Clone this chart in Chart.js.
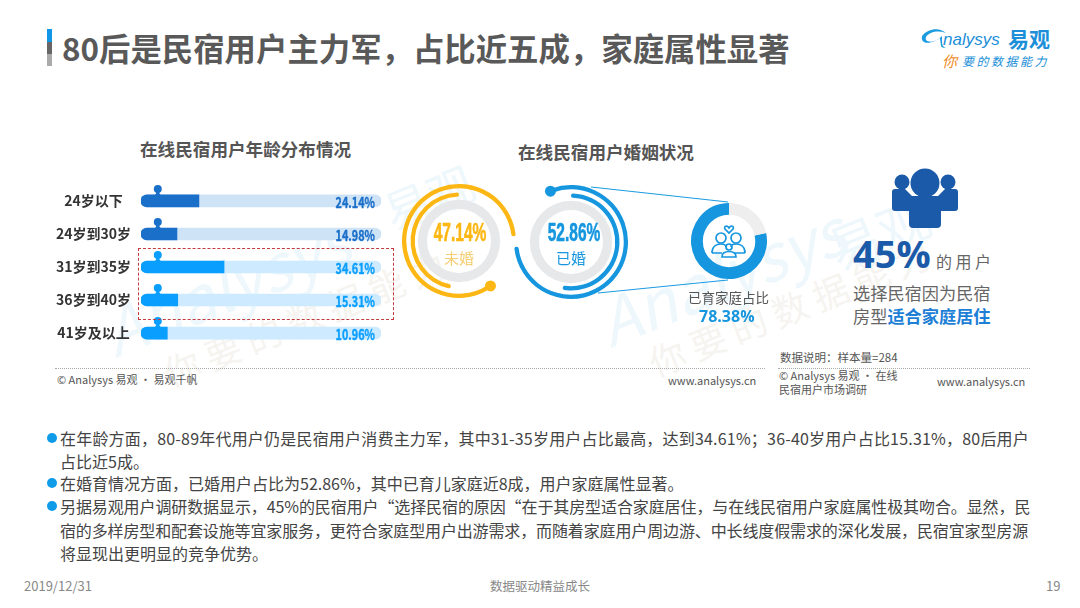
<!DOCTYPE html>
<html>
<head>
<meta charset="utf-8">
<script src="https://cdn.jsdelivr.net/npm/chart.js@4/dist/chart.umd.min.js"></script>
<style>
    html, body { margin: 0; padding: 0; background: #fff; }
    #pagina { position: relative; width: 1080px; height: 608px; overflow: hidden; font-family: "Noto Sans CJK SC", "Noto Sans", sans-serif; color: #444; }
    #pagina div, #pagina canvas, #pagina svg { position: absolute; }
    #pagina div { white-space: nowrap; line-height: 1; }
    .marca { color: #eef7fc; transform-origin: left center; }
    .marca2 { color: #f6f4f0; transform-origin: left center; }
    .cuerpo { left: 60px; font-size: 16px; color: #444; }
    .punto { left: 47px; width: 10px; height: 10px; border-radius: 50%; background: #0f9be8; }
    .subtitulo { font-size: 17.6px; font-weight: bold; color: #555; }
    .nota { font-size: 11px; color: #555; }
    .raya { height: 0; border-top: 1px dotted #aaa; }
    .anillo { font-family: "Liberation Sans", sans-serif; font-weight: bold; font-size: 25px; -webkit-text-stroke: .6px currentColor; transform: scaleX(.62); transform-origin: center; text-align: center; width: 90px; }
</style>
</head>
<body>
<div id="pagina">
    <!-- marcas de agua -->
    <div class="marca" style="left:105px;top:300px;font-size:64px;font-style:italic;transform:rotate(-22deg)">Analysys</div>
    <div class="marca" style="left:600px;top:290px;font-size:64px;font-style:italic;transform:rotate(-22deg)">Analysys</div>
    <div class="marca" style="left:385px;top:190px;font-size:46px;transform:rotate(-22deg)">易观</div>
    <div class="marca" style="left:830px;top:225px;font-size:52px;transform:rotate(-22deg)">易观</div>
    <div class="marca2" style="left:165px;top:355px;font-size:36px;letter-spacing:8px;transform:rotate(-22deg)">你要的数据能力</div>
    <div class="marca2" style="left:650px;top:345px;font-size:36px;letter-spacing:8px;transform:rotate(-22deg)">你要的数据能力</div>

    <!-- cabecera -->
    <svg style="left:47px;top:29px" width="6" height="37">
        <rect width="5" height="13" fill="#1296e8"></rect>
        <rect y="13" width="5" height="12" fill="#666"></rect>
        <rect y="25" width="5" height="12" fill="#aaa"></rect>
    </svg>
    <div style="left:62px;top:32px;font-size:31.4px;font-weight:bold;color:#595959">80后是民宿用户主力军，占比近五成，家庭属性显著</div>

    <!-- logo -->
    <svg style="left:920px;top:24px" width="30" height="28">
        <path d="M2 12 C8 4 20 3 26 9 C18 6 9 8 6 13 C4 18 12 20 20 14 L21 22 C22 24 24 24 26 23 C22 23 22 21 22 12 C14 20 0 22 2 12 Z" fill="#1b9be0"></path>
    </svg>
    <div style="left:943px;top:31px;font-family:'Liberation Sans';font-size:17px;font-style:italic;color:#1b8fd8">nalysys</div>
    <div style="left:1008px;top:28px;font-size:21px;font-weight:bold;color:#1b8fd8">易观</div>
    <div style="left:942px;top:53px;font-size:15px;font-style:italic;color:#f08a24">你</div>
    <div style="left:962px;top:55px;font-size:12px;font-style:italic;letter-spacing:2.5px;color:#1b8fd8">要的数据能力</div>

    <!-- izquierda -->
    <div class="subtitulo" style="left:140px;top:140px">在线民宿用户年龄分布情况</div>
    <canvas id="graficoEdad" style="left:50px;top:166px" width="331" height="202"></canvas>
    <div style="left:138px;top:248px;width:254px;height:70px;border:1px dashed #c23b3f"></div>
    <div class="raya" style="left:55px;top:368px;width:710px"></div>
    <div class="nota" style="left:57px;top:374px">© Analysys 易观 · 易观千帆</div>
    <div class="nota" style="left:668px;top:375px">www.analysys.cn</div>

    <!-- centro -->
    <div class="subtitulo" style="left:518px;top:143px">在线民宿用户婚姻状况</div>
    <svg style="left:580px;top:180px" width="160" height="120">
        <line x1="11" y1="7" x2="148" y2="22" stroke="#1b9be0" stroke-width="1"></line>
        <line x1="18" y1="113" x2="148" y2="100" stroke="#1b9be0" stroke-width="1"></line>
    </svg>
    <canvas id="anilloSoltero" style="left:394px;top:176px" width="130" height="130"></canvas>
    <canvas id="anilloCasado" style="left:506px;top:177px" width="130" height="130"></canvas>
    <canvas id="anilloFamilia" style="left:684px;top:196px" width="90" height="90"></canvas>
    <div class="anillo" style="left:415px;top:220px;color:#fcb714">47.14%</div>
    <div style="left:444px;top:250px;font-size:15px;color:#f5cf74">未婚</div>
    <div class="anillo" style="left:529px;top:220px;color:#1596de">52.86%</div>
    <div style="left:556px;top:250px;font-size:15px;color:#1596de">已婚</div>
    <svg style="left:709px;top:221px" width="40" height="40" fill="none" stroke="#1596de" stroke-width="1.7">
        <path d="M20 7 C18 4 14.5 5 16 8 L20 12 L24 8 C25.5 5 22 4 20 7 Z"></path>
        <circle cx="12" cy="17" r="5"></circle>
        <circle cx="27" cy="17" r="5"></circle>
        <path d="M3 32 C3 25 8 23 12 23 C15 23 17 24 17 26 M36 32 C36 25 31 23 27 23 C24 23 22 24 22 26 M3 32 L13 32 M26 32 L36 32"></path>
        <circle cx="20" cy="26" r="3"></circle>
        <path d="M13 36 C13 32 16 30.5 20 30.5 C24 30.5 27 32 27 36 Z"></path>
    </svg>
    <div style="left:688px;top:291px;font-size:13.5px;color:#555">已育家庭占比</div>
    <div style="left:699px;top:308px;font-size:16px;font-weight:bold;font-family:'Open Sans';color:#1596de">78.38%</div>

    <!-- derecha -->
    <svg style="left:890px;top:166px" width="70" height="64" fill="#1a5aa8">
        <circle cx="35" cy="17" r="14.5"></circle>
        <circle cx="12" cy="16" r="7.5"></circle>
        <circle cx="58" cy="16" r="7.5"></circle>
        <path d="M5 23 L15 23 L22 30 L48 30 L55 23 L65 23 Q68 23 68 26 L68 42 Q68 45 65 45 L51 45 L51 58 Q51 62 47 62 L23 62 Q19 62 19 58 L19 45 L5 45 Q2 45 2 42 L2 26 Q2 23 5 23 Z"></path>
    </svg>
    <div style="left:853px;top:234px;font-size:38px;font-weight:bold;font-family:'Open Sans';color:#1a5aa8">45%</div>
    <div style="left:936px;top:253px;font-size:16px;letter-spacing:3.5px;color:#666">的用户</div>
    <div style="left:853px;top:284px;font-size:17.2px;color:#666">选择民宿因为民宿</div>
    <div style="left:853px;top:307px;font-size:17.2px;color:#666">房型<span style="font-weight:bold;color:#1e7fd6">适合家庭居住</span></div>
    <div class="nota" style="left:780px;top:352px;font-size:11.5px">数据说明：样本量=284</div>
    <div class="raya" style="left:778px;top:368px;width:252px"></div>
    <div class="nota" style="left:779px;top:370px">© Analysys 易观 · 在线</div>
    <div class="nota" style="left:779px;top:384px">民宿用户市场调研</div>
    <div class="nota" style="left:937px;top:376px">www.analysys.cn</div>

    <!-- texto -->
    <div class="punto" style="top:433px"></div>
    <div class="cuerpo" style="top:430px;letter-spacing:.2px">在年龄方面，80-89年代用户仍是民宿用户消费主力军，其中31-35岁用户占比最高，达到34.61%；36-40岁用户占比15.31%，80后用户</div>
    <div class="cuerpo" style="top:453px">占比近5成。</div>
    <div class="punto" style="top:478px"></div>
    <div class="cuerpo" style="top:475px">在婚育情况方面，已婚用户占比为52.86%，其中已育儿家庭近8成，用户家庭属性显著。</div>
    <div class="punto" style="top:501px"></div>
    <div class="cuerpo" style="top:498px;letter-spacing:-.1px">另据易观用户调研数据显示，45%的民宿用户“选择民宿的原因“在于其房型适合家庭居住，与在线民宿用户家庭属性极其吻合。显然，民</div>
    <div class="cuerpo" style="top:522px;letter-spacing:-.13px">宿的多样房型和配套设施等宜家服务，更符合家庭型用户出游需求，而随着家庭用户周边游、中长线度假需求的深化发展，民宿宜家型房源</div>
    <div class="cuerpo" style="top:545px">将显现出更明显的竞争优势。</div>

    <!-- pie -->
    <div style="left:24px;top:579px;font-size:13px;color:#888">2019/12/31</div>
    <div style="left:490px;top:580px;font-size:12.5px;color:#888">数据驱动精益成长</div>
    <div style="left:1046px;top:579px;font-size:13px;color:#888">19</div>
</div>

<script>
const edades = ['24岁以下', '24岁到30岁', '31岁到35岁', '36岁到40岁', '41岁及以上'];
const valoresEdad = [24.14, 14.98, 34.61, 15.31, 10.96];
const fondoEdad = [100, 100, 100, 100, 100];
const posicionPin = 7;

const soltero = [47.14, 52.86];
const casado = [52.86, 47.14];
const familia = [78.38, 21.62];
// los arcos exteriores son decorativos, en grados
const arcoSoltero = [300, 60];
const arcoCasado = [287, 73];
const lleno = [100];

const coloresEdad = ['#1a6fc9', '#1a6fc9', '#0a9eff', '#0a9eff', '#0a9eff'];
const coloresFondo = ['#cfe3f7', '#cfe3f7', '#cdeaff', '#cdeaff', '#cdeaff'];

Chart.defaults.animation = false;
Chart.defaults.font.family = '"Noto Sans CJK SC", sans-serif';

// cabeza del muñeco y porcentaje de cada barra
let pluginBarras = {
    id: 'pluginBarras',
    afterDatasetsDraw(chart) {
        let ctx = chart.ctx;
        let x = chart.scales.x;
        let y = chart.scales.y;
        valoresEdad.forEach((valor, i) => {
            let px = x.getPixelForValue(posicionPin);
            let py = y.getPixelForValue(i);
            ctx.save();
            ctx.fillStyle = coloresEdad[i];
            ctx.beginPath();
            ctx.arc(px, py - 12, 4, 0, Math.PI * 2);
            ctx.fill();
            ctx.beginPath();
            ctx.moveTo(px - 5, py - 5);
            ctx.quadraticCurveTo(px - 1.5, py - 6, px - 1.5, py - 9);
            ctx.lineTo(px + 1.5, py - 9);
            ctx.quadraticCurveTo(px + 1.5, py - 6, px + 5, py - 5);
            ctx.fill();

            ctx.translate(x.getPixelForValue(97.5), py + 1);
            ctx.scale(0.72, 1);
            ctx.font = 'bold 15px "Noto Sans CJK SC", sans-serif';
            ctx.textAlign = 'right';
            ctx.textBaseline = 'middle';
            ctx.strokeStyle = coloresEdad[i];
            ctx.lineWidth = 0.4;
            ctx.strokeText(valor.toFixed(2) + '%', 0, 0);
            ctx.fillText(valor.toFixed(2) + '%', 0, 0);
            ctx.restore();
        });
    }
};

new Chart(document.getElementById('graficoEdad').getContext('2d'), {
    type: 'bar',
    data: {
        labels: edades,
        datasets: [
            {
                data: valoresEdad,
                backgroundColor: coloresEdad,
                borderRadius: { topLeft: 6, bottomLeft: 6 },
                borderSkipped: false,
                barThickness: 12,
                order: 1
            },
            {
                data: fondoEdad,
                backgroundColor: coloresFondo,
                borderRadius: 6,
                borderSkipped: false,
                barThickness: 12,
                order: 2
            }
        ]
    },
    options: {
        indexAxis: 'y',
        responsive: false,
        grouped: false,
        layout: { padding: 0 },
        plugins: { legend: { display: false }, tooltip: { enabled: false } },
        scales: {
            x: { display: false, min: 0, max: 100 },
            y: {
                afterFit: (scale) => { scale.width = 91; },
                border: { display: false },
                grid: { display: false, drawTicks: false },
                ticks: {
                    crossAlign: 'center',
                    padding: 10,
                    color: '#333',
                    font: { size: 14, weight: 'bold' }
                }
            }
        }
    },
    plugins: [pluginBarras]
});

// punto al inicio del arco exterior
let pluginPunto = {
    id: 'pluginPunto',
    afterDatasetsDraw(chart) {
        let arco = chart.getDatasetMeta(0).data[0];
        let r = (arco.innerRadius + arco.outerRadius) / 2;
        let ctx = chart.ctx;
        ctx.save();
        ctx.fillStyle = chart.data.datasets[0].backgroundColor[0];
        ctx.beginPath();
        ctx.arc(arco.x + Math.cos(arco.startAngle) * r, arco.y + Math.sin(arco.startAngle) * r, 5.5, 0, Math.PI * 2);
        ctx.fill();
        ctx.restore();
    }
};

function crearAnillo(id, exterior, giroExterior, interior, giroInterior, color) {
    new Chart(document.getElementById(id).getContext('2d'), {
        type: 'doughnut',
        data: {
            datasets: [
                { data: exterior, rotation: giroExterior, weight: 3.5, backgroundColor: [color, 'transparent'], borderWidth: 0, borderRadius: 2 },
                { data: lleno, weight: 3.5, backgroundColor: ['transparent'], borderWidth: 0 },
                { data: interior, rotation: giroInterior, weight: 3.5, backgroundColor: [color, 'transparent'], borderWidth: 0, borderRadius: 2 },
                { data: lleno, weight: 2.5, backgroundColor: ['transparent'], borderWidth: 0 },
                { data: lleno, weight: 7.5, backgroundColor: ['#e7e8ea'], borderWidth: 0 }
            ]
        },
        options: {
            responsive: false,
            radius: 57,
            cutout: 36.5,
            plugins: { legend: { display: false }, tooltip: { enabled: false } }
        },
        plugins: [pluginPunto]
    });
}

crearAnillo('anilloSoltero', arcoSoltero, 145, soltero, 360 - soltero[0] * 3.6, '#fcb714');
crearAnillo('anilloCasado', arcoCasado, 338, casado, 0, '#1596de');

new Chart(document.getElementById('anilloFamilia').getContext('2d'), {
    type: 'doughnut',
    data: {
        datasets: [{
            data: familia,
            rotation: familia[1] * 3.6,
            backgroundColor: ['#1596de', '#eeeeee'],
            borderWidth: 0
        }]
    },
    options: {
        responsive: false,
        radius: 38,
        cutout: 31,
        plugins: { legend: { display: false }, tooltip: { enabled: false } }
    }
});
</script>
</body>
</html>
